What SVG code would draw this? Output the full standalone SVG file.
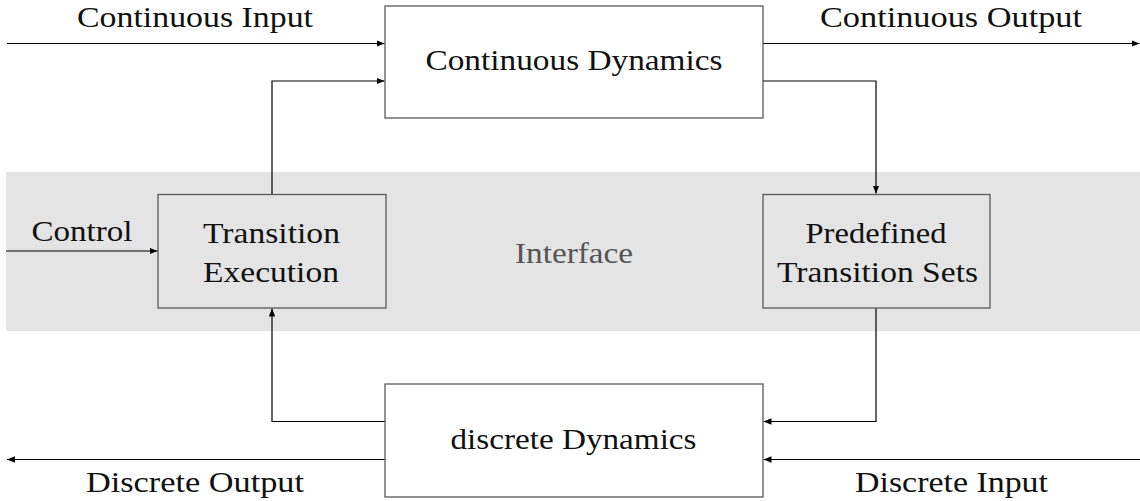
<svg xmlns="http://www.w3.org/2000/svg" width="1140" height="501" viewBox="0 0 1140 501">
  <style>
    .box { fill: #ffffff; stroke: #5a5a5a; stroke-width: 1.3; }
    .box.in-band { fill: #e4e4e4; }
    .wire { fill: none; stroke: #000000; stroke-width: 1.2; marker-end: url(#head); }
    text { font-family: "Liberation Serif", "Times New Roman", Times, serif; font-size: 30px; fill: #111111; text-anchor: middle; }
    .band-label { fill: #555555; }
  </style>
  <defs>
    <marker id="head" viewBox="0 0 10 8" refX="10" refY="4" markerWidth="8" markerHeight="6.4" markerUnits="userSpaceOnUse" orient="auto">
      <path d="M0,0 L10,4 L0,8 Z" fill="#000000"/>
    </marker>
  </defs>

  <!-- shaded interface band -->
  <g id="interface">
    <rect x="6" y="172" width="1134" height="159" fill="#e4e4e4"/>
    <text class="band-label" x="574" y="262.5" textLength="118" lengthAdjust="spacingAndGlyphs">Interface</text>
  </g>

  <!-- connectors -->
  <g id="connectors">
    <path class="wire" d="M7,43.5 H384.5"/>
    <path class="wire" d="M763,43.5 H1139.5"/>
    <path class="wire" d="M272,194 V81 H384.5"/>
    <path class="wire" d="M763,81 H876 V193.5"/>
    <path class="wire" d="M6,251 H157.5"/>
    <path class="wire" d="M876,308 V421.5 H763.5"/>
    <path class="wire" d="M385,421.5 H272 V308.5"/>
    <path class="wire" d="M385,459.5 H7"/>
    <path class="wire" d="M1140,459.5 H763.5"/>
  </g>

  <!-- edge labels -->
  <g id="labels">
    <text x="195" y="27" textLength="236" lengthAdjust="spacingAndGlyphs">Continuous Input</text>
    <text x="951" y="27" textLength="262" lengthAdjust="spacingAndGlyphs">Continuous Output</text>
    <text x="82" y="241" textLength="101" lengthAdjust="spacingAndGlyphs">Control</text>
    <text x="195" y="492" textLength="218" lengthAdjust="spacingAndGlyphs">Discrete Output</text>
    <text x="951.5" y="492" textLength="193" lengthAdjust="spacingAndGlyphs">Discrete Input</text>
  </g>

  <g id="continuous-dynamics">
    <rect class="box" x="385" y="6" width="378" height="112"/>
    <text x="574" y="70" textLength="297" lengthAdjust="spacingAndGlyphs">Continuous Dynamics</text>
  </g>

  <g id="transition-execution">
    <rect class="box in-band" x="158" y="194.5" width="228" height="113.5"/>
    <text x="271.5" y="242.5" textLength="137" lengthAdjust="spacingAndGlyphs">Transition</text>
    <text x="271" y="282" textLength="136" lengthAdjust="spacingAndGlyphs">Execution</text>
  </g>

  <g id="predefined-transition-sets">
    <rect class="box in-band" x="763" y="194.5" width="227" height="113.5"/>
    <text x="876" y="242.5" textLength="141" lengthAdjust="spacingAndGlyphs">Predefined</text>
    <text x="877.5" y="282" textLength="201" lengthAdjust="spacingAndGlyphs">Transition Sets</text>
  </g>

  <g id="discrete-dynamics">
    <rect class="box" x="385" y="384" width="378" height="113"/>
    <text x="573.5" y="449" textLength="246" lengthAdjust="spacingAndGlyphs">discrete Dynamics</text>
  </g>
</svg>
